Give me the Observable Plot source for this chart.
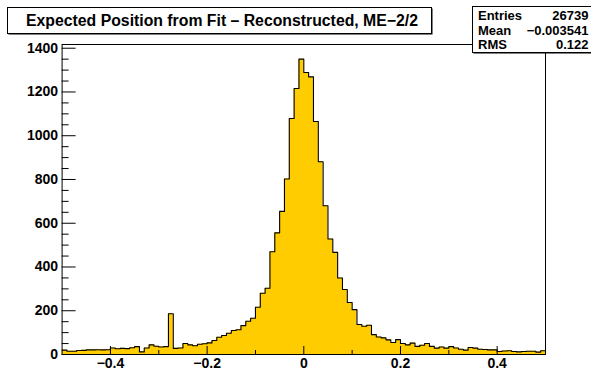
<!DOCTYPE html>
<html><head><meta charset="utf-8">
<script src="https://cdn.jsdelivr.net/npm/d3@7"></script>
<script src="https://cdn.jsdelivr.net/npm/@observablehq/plot@0.6"></script>
<style>body{margin:0;background:#fff;}</style>
</head><body><div id="chart"></div>
<script>
const titleText = "Expected Position from Fit – Reconstructed, ME−2/2";
const statsLabels = ["Entries", "Mean", "RMS"];
const statsValues = ["26739", "−0.003541", "0.122"];

// histogram axis: 100 bins of 0.01 from -0.5 to 0.5
const binLow = -0.5;
const binWidth = 0.01;
const counts = [
  20, 15, 15, 18, 19, 21, 21, 22, 21, 22,
  30, 26, 28, 27, 31, 36, 12, 30, 44, 38,
  34, 36, 186, 28, 30, 50, 44, 40, 47, 49,
  53, 64, 79, 87, 97, 110, 113, 132, 152, 166,
  216, 280, 303, 470, 556, 654, 802, 1079, 1216, 1350,
  1289, 1269, 1065, 881, 680, 528, 467, 350, 297, 238,
  205, 137, 129, 134, 91, 80, 76, 67, 55, 68,
  50, 44, 52, 37, 42, 50, 37, 29, 34, 29,
  36, 30, 24, 20, 32, 29, 24, 23, 21, 21,
  14, 16, 17, 14, 12, 14, 15, 15, 11, 17
];
const xDomain = [-0.5, 0.5];
const yMax = 1417;
const xMajorTicks = [-0.4, -0.2, 0, 0.2, 0.4];
const xMinorTicks = [-0.3, -0.1, 0.1, 0.3];
const yMajorTicks = [0, 200, 400, 600, 800, 1000, 1200, 1400];
const yMinorTicks = [50, 100, 150, 250, 300, 350, 450, 500, 550, 650, 700, 750,
  850, 900, 950, 1050, 1100, 1150, 1250, 1300, 1350];

const bins = counts.map((c, i) => ({x1: binLow + i * binWidth, x2: binLow + (i + 1) * binWidth, y: c}));
const steps = bins.flatMap(b => [{x: b.x1, y: b.y}, {x: b.x2, y: b.y}]);

const W = 591, H = 370, mL = 61.6, mR = 46, mT = 44, mB = 16;
const plotW = W - mL - mR, plotH = H - mT - mB;
const font = "'Liberation Sans', Arial, Helvetica, sans-serif";

const chart = Plot.plot({
  width: W, height: H,
  marginLeft: mL, marginRight: mR, marginTop: mT, marginBottom: mB,
  x: {domain: xDomain},
  y: {domain: [0, yMax]},
  style: {fontFamily: font, fontSize: "14px", fontWeight: "bold", background: "white", color: "black", overflow: "visible"},
  marks: [
    Plot.areaY(steps, {x: "x", y1: 0, y2: "y", fill: "#ffcc00"}),
    Plot.line(steps, {x: "x", y: "y", stroke: "black", strokeWidth: 1.1}),
    Plot.frame({stroke: "black", strokeWidth: 1}),
    Plot.ruleY(yMajorTicks, {insetRight: plotW - 14, stroke: "black"}),
    Plot.ruleY(yMinorTicks, {insetRight: plotW - 7, stroke: "black"}),
    Plot.ruleX(xMajorTicks, {insetTop: plotH - 8, stroke: "black"}),
    Plot.ruleX(xMinorTicks, {insetTop: plotH - 4, stroke: "black"}),
    Plot.axisY(yMajorTicks, {tickSize: 0, tickPadding: 4, tickFormat: d3.format("d"), label: null}),
    Plot.axisX(xMajorTicks, {tickSize: 0, tickPadding: 4, tickFormat: d3.format(""), label: null})
  ]
});
document.getElementById("chart").appendChild(chart);

const svg = d3.select(chart);
// title pave
const tg = svg.append("g");
tg.append("rect").attr("x", 8.5).attr("y", 8.5).attr("width", 424).attr("height", 26).attr("fill", "black");
tg.append("rect").attr("x", 7.5).attr("y", 7.5).attr("width", 424).attr("height", 26).attr("fill", "white").attr("stroke", "black");
tg.append("text").attr("x", 222).attr("y", 26).attr("text-anchor", "middle")
  .style("font-family", font).style("font-size", "15.8px").style("font-weight", "bold").text(titleText);

// stats box
const sg = svg.append("g");
sg.append("rect").attr("x", 473.5).attr("y", 7.5).attr("width", 120).attr("height", 46).attr("fill", "black");
sg.append("rect").attr("x", 472.5).attr("y", 6.5).attr("width", 120).attr("height", 46).attr("fill", "white").attr("stroke", "black");
statsLabels.forEach((lab, i) => {
  const y = 19.8 + i * 14.8;
  sg.append("text").attr("x", 478).attr("y", y).attr("text-anchor", "start")
    .style("font-family", font).style("font-size", "13px").style("font-weight", "bold").text(lab);
  sg.append("text").attr("x", 588.5).attr("y", y).attr("text-anchor", "end")
    .style("font-family", font).style("font-size", "13px").style("font-weight", "bold").text(statsValues[i]);
});
</script>
</body></html>
